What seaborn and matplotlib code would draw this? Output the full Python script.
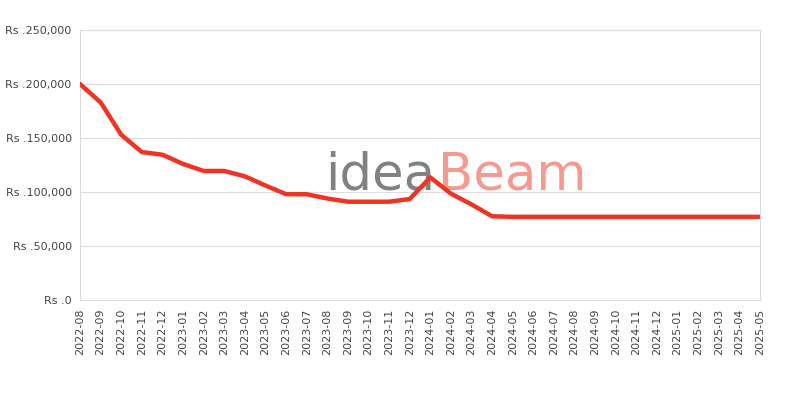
import matplotlib.pyplot as plt
import seaborn as sns
import pandas as pd

# monthly price points
months = ['2022-08', '2022-09', '2022-10', '2022-11', '2022-12', '2023-01', '2023-02',
          '2023-03', '2023-04', '2023-05', '2023-06', '2023-07', '2023-08', '2023-09',
          '2023-10', '2023-11', '2023-12', '2024-01', '2024-02', '2024-03', '2024-04',
          '2024-05', '2024-06', '2024-07', '2024-08', '2024-09', '2024-10', '2024-11',
          '2024-12', '2025-01', '2025-02', '2025-03', '2025-04', '2025-05']
prices = [200000, 183000, 153000, 137000, 134500, 126000, 119500,
          119500, 114500, 106000, 98000, 97900, 94000, 91000,
          91000, 91000, 93500, 113500, 98500, 88500, 77500,
          77000, 77000, 77000, 77000, 77000, 77000, 77000,
          77000, 77000, 77000, 77000, 77000, 77000]
y_ticks = [0, 50000, 100000, 150000, 200000, 250000]

df = pd.DataFrame({'idx': range(len(months)), 'price': prices})

sns.set_style("white")
plt.rcParams['font.family'] = ['DejaVu Sans']

fig = plt.figure(figsize=(8, 4), dpi=100)
ax = fig.add_axes([0.1, 0.25, 0.85, 0.675])

# watermark, drawn under the line
ax.text(0.544, 0.525, 'idea', fontsize=37, color='#7a7a7a', alpha=0.95,
        transform=fig.transFigure, ha='right', va='baseline', zorder=0)
ax.text(0.547, 0.525, 'Beam', fontsize=37, color='#f4958a', alpha=0.95,
        transform=fig.transFigure, ha='left', va='baseline', zorder=0)

sns.lineplot(data=df, x='idx', y='price', ax=ax, color='#ee3424', linewidth=3.2, zorder=3)

ax.set_xlim(0, len(months) - 1)
ax.set_ylim(0, 250000)
ax.set_xticks(range(len(months)))
ax.set_xticklabels(months, rotation=90)
ax.set_yticks(y_ticks)
ax.set_yticklabels(['Rs .{:,}'.format(v) for v in y_ticks])
ax.tick_params(labelsize=8, colors='#444444', length=0, pad=6)
ax.grid(axis='y', color='#dddddd', linewidth=0.8)
for s in ax.spines.values():
    s.set_color('#dddddd')
    s.set_linewidth(0.8)
ax.set_xlabel('')
ax.set_ylabel('')

fig.savefig('out.png', dpi=100)
